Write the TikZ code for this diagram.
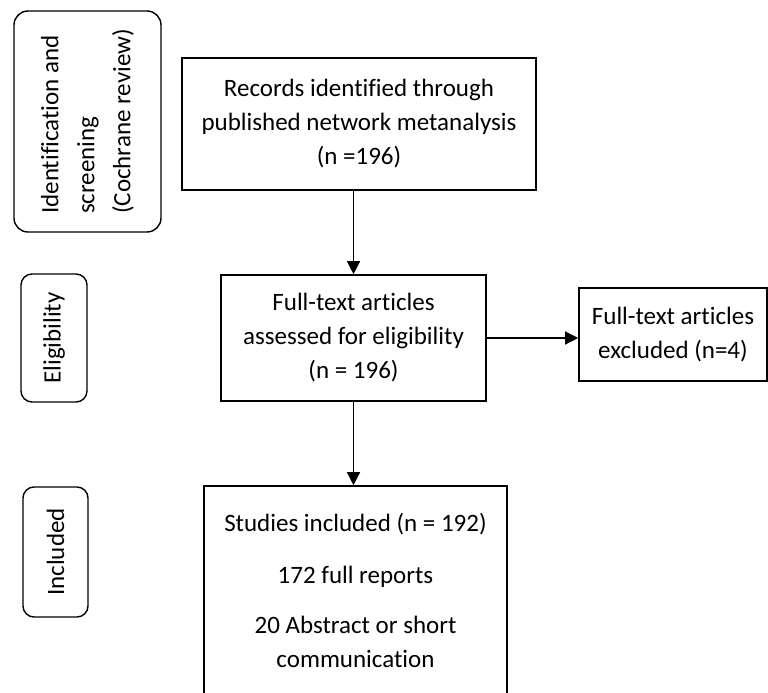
\documentclass[tikz,border=0pt]{standalone}
\usepackage{fontspec}
\setmainfont{Carlito}[Ligatures={NoCommon}]
\usetikzlibrary{arrows.meta,calc}
\begin{document}
\begin{tikzpicture}[x=1pt,y=-1pt,
  flowbox/.style={draw=black, line width=1.6pt, rectangle, align=center, inner sep=0pt,
     font=\fontsize{25}{34}\selectfont},
  stagebox/.style={draw=black, line width=1.4pt, rounded corners=14pt, rotate=90, inner sep=0pt,
     font=\fontsize{25}{36}\selectfont},
  flowarrow/.style={line width=1.3pt, -{Triangle[width=13pt,length=13pt]}}]
\useasboundingbox (0,0) rectangle (768,693);
\clip (0,0) rectangle (768,693);
\fill[white] (0,0) rectangle (768,693);

% stage labels
\node[stagebox, minimum width=221pt, minimum height=147pt, align=left] (sA) at (87.5,121.5)
  {Identification and\\screening\\(Cochrane review)};
\node[stagebox, rounded corners=11pt, minimum width=128pt, minimum height=66pt] (sB) at (54,338) {Eligibility};
\node[stagebox, rounded corners=11pt, minimum width=130pt, minimum height=65pt] (sC) at (55.5,552) {Included};

% flow boxes
\node[flowbox, minimum width=354pt, minimum height=132pt] (b1) at (359,124)
  {Records identified through\\published network metanalysis\\(n =196)};
\node[flowbox, minimum width=265pt, minimum height=126pt] (b2) at (353.5,338)
  {Full-text articles\\assessed for eligibility\\(n = 196)};
\node[flowbox, minimum width=188pt, minimum height=93pt] (b3) at (673,334.5)
  {Full-text articles\\excluded (n=4)};
\node[flowbox, minimum width=303pt, minimum height=208pt] (b4) at (355.5,590)
  {Studies included (n = 192)\\[18pt]172 full reports\\[16pt]20 Abstract or short\\communication};

% connectors
\draw[flowarrow] (b1.south -| b2.north) -- (b2.north);
\draw[flowarrow] (b2.east) -- (b3.west |- b2.east);
\draw[flowarrow] (b2.south) -- (b2.south |- b4.north);
\end{tikzpicture}
\end{document}
